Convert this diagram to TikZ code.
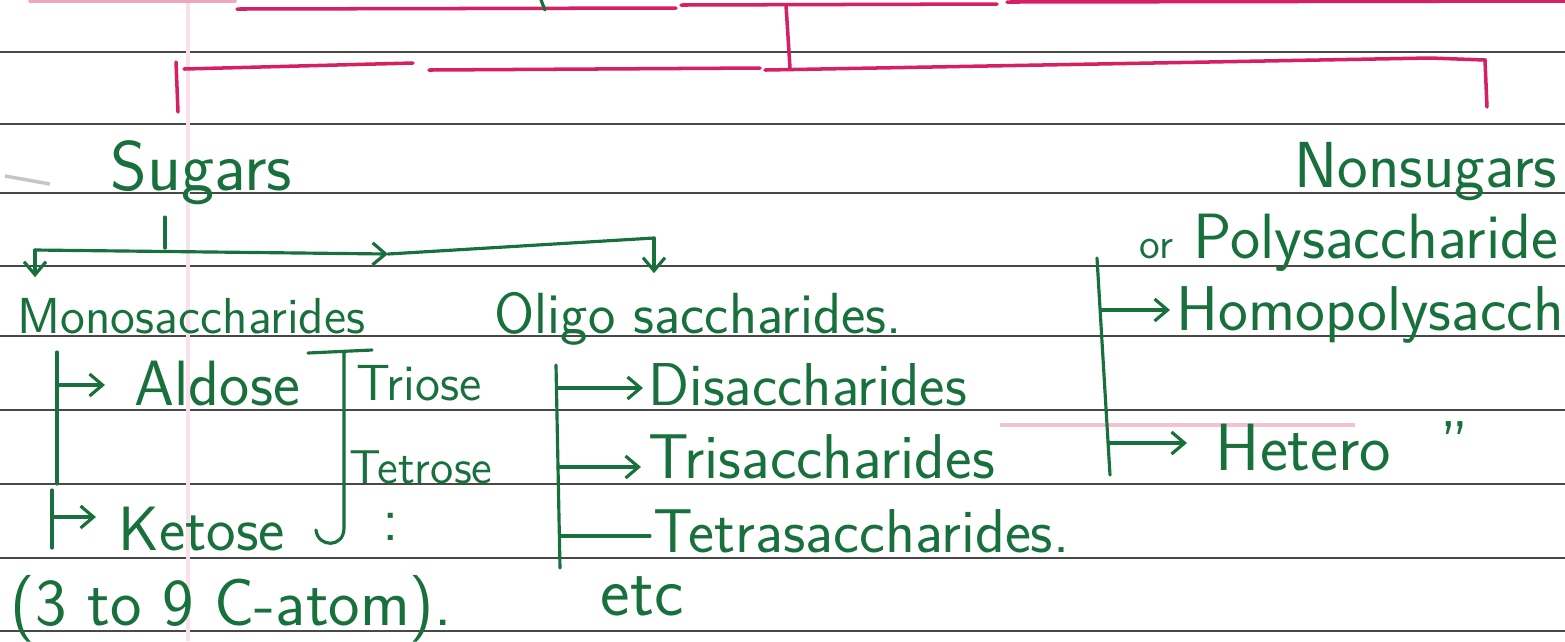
\documentclass[tikz,border=0pt]{standalone}
\usepackage{fontspec}
\usepackage{tikz}
\usetikzlibrary{
  arrows.meta,
  positioning
}
\definecolor{ink}{RGB}{24,112,60}
\definecolor{marker}{RGB}{214,32,100}
\definecolor{ruling}{RGB}{72,72,72}
\tikzset{
  hand/.style={
    font=\sffamily\fontsize{#1}{#1}\selectfont,
    text=ink,
    inner sep=0pt,
    anchor=base west
  },
  hand/.default=16,
  pen/.style={ draw=ink, line width=0.9pt, line cap=round },
  tip/.style={ -{Straight Barb[length=1.3mm,width=2.2mm]} },
  ruled/.style={ draw=ruling, line width=0.7pt },
  redline/.style={ draw=marker, line width=1pt, line cap=round },
  margin/.style={ draw=marker!14, line width=1pt }
}

\begin{document}
\begin{tikzpicture}[x=0.01cm, y=-0.01cm]
  \useasboundingbox (0,0) rectangle (1565,641);
  \fill[white] (0,0) rectangle (1565,641);
  \clip (0,0) rectangle (1565,641);

  % notebook paper
  \foreach \yy in {52,124,193,266,336,410,484,558,631}
    \draw[ruled] (0,\yy) -- (1565,\yy);
  \draw[margin] (188,0) -- (188,641);
  \draw[margin, draw=marker!28] (1000,425) -- (1355,425);
  \draw[gray!45, line width=1pt] (5,176) -- (50,184);

  % red heading brackets
  \draw[redline, draw=marker!40] (30,1) -- (235,1);
  \draw[redline] (237,9) -- (676,8);
  \draw[redline] (681,5) -- (997,4);
  \draw[redline] (1007,2) -- (1565,1);
  \draw[redline] (786,5) -- (790,68);
  \draw[redline] (176,62) -- (178,112);
  \draw[redline] (184,69) -- (413,63);
  \draw[redline] (429,70) -- (760,68);
  \draw[redline] (765,70) -- (1430,58) -- (1485,60) -- (1487,107);
  \draw[pen] (541,0) -- (545,10);

  % sugars
  \node[hand=20] (sugars) at (110,190) {Sugars};
  \node[hand=14.4] (mono) at (17,333) {Monosaccharides};
  \node[hand=16.5] (oligo) at (494,333) {Oligo saccharides.};

  \coordinate (split) at (165,248);
  \coordinate (barL) at (35,250);
  \coordinate (barMid) at (388,254);
  \coordinate (barR) at (654,238);
  \draw[pen, shorten <=0.12cm] (sugars.south -| split) -- (split);
  \draw[pen, tip] (barL) -- (barMid);
  \draw[pen] (barMid) -- (barR);
  \draw[pen, tip, shorten >=0.2cm] (barL) -- (mono.north -| barL);
  \draw[pen, tip, shorten >=0.18cm] (barR) -- (oligo.north -| barR);

  % monosaccharides
  \node[hand=18.2] (aldose) at (134,405) {Aldose};
  \node[hand=17.8] (ketose) at (118,550) {Ketose};
  \node[hand=14.5] (triose) at (356,400) {Triose};
  \node[hand=13.5] (tetrose) at (349,483) {Tetrose};
  \node[hand=18] (dots) at (382,540) {:};
  \node[hand=19] (catom) at (10,625) {(3 to 9 C-atom).};

  \coordinate (monoTop) at (57,352);
  \coordinate (monoBot) at (57,484);
  \coordinate (aldoseFrom) at (57,385);
  \coordinate (ketTop) at (52,490);
  \coordinate (ketBot) at (52,548);
  \coordinate (ketFrom) at (52,517);
  \draw[pen] (monoTop) -- (monoBot);
  \draw[pen, tip, shorten >=0.29cm] (aldoseFrom) -- (aldoseFrom -| aldose.west);
  \draw[pen] (ketTop) -- (ketBot);
  \draw[pen, tip, shorten >=0.22cm] (ketFrom) -- (ketFrom -| ketose.west);

  \coordinate (brTop) at (344,352);
  \draw[pen] (308,353) -- (372,350);
  \draw[pen] (brTop) -- (344,528) .. controls (344,548) and (318,548) .. (316,530);

  % oligosaccharides
  \node[hand=17.2] (di) at (648,405) {Disaccharides};
  \node[hand=18] (tri) at (648,478) {Trisaccharides};
  \node[hand=17.6] (tetra) at (653,552) {Tetrasaccharides.};
  \node[hand=20] (etc) at (600,615) {etc};

  \coordinate (oligoTop) at (556,365);
  \coordinate (oligoBot) at (560,568);
  \coordinate (diFrom) at (557,388);
  \coordinate (triFrom) at (558,467);
  \coordinate (tetraFrom) at (560,536);
  \draw[pen] (oligoTop) -- (oligoBot);
  \draw[pen, tip, shorten >=0.05cm] (diFrom) -- (diFrom -| di.west);
  \draw[pen, tip, shorten >=0.07cm] (triFrom) -- (triFrom -| tri.west);
  \draw[pen, shorten >=0.03cm] (tetraFrom) -- (tetraFrom -| tetra.west);

  % nonsugars
  \node[hand=18.5] (nonsug) at (1294,187) {Nonsugars};
  \node[hand=18.2] (poly) at (1139,258) {{\fontsize{12}{12}\selectfont or} Polysaccharide};
  \node[hand=18] (homo) at (1176,330) {Homopolysacch};
  \node[hand=19] (hetero) at (1215,470) {Hetero};
  \node[hand=18] (ditto) at (1440,465) {''};

  \coordinate (polyTop) at (1097,258);
  \coordinate (polyBot) at (1110,475);
  \coordinate (homoFrom) at (1102,310);
  \coordinate (hetFrom) at (1109,443);
  \draw[pen] (polyTop) -- (polyBot);
  \draw[pen, tip, shorten >=0.06cm] (homoFrom) -- (homoFrom -| homo.west);
  \draw[pen, tip, shorten >=0.28cm] (hetFrom) -- (hetFrom -| hetero.west);
\end{tikzpicture}
\end{document}
